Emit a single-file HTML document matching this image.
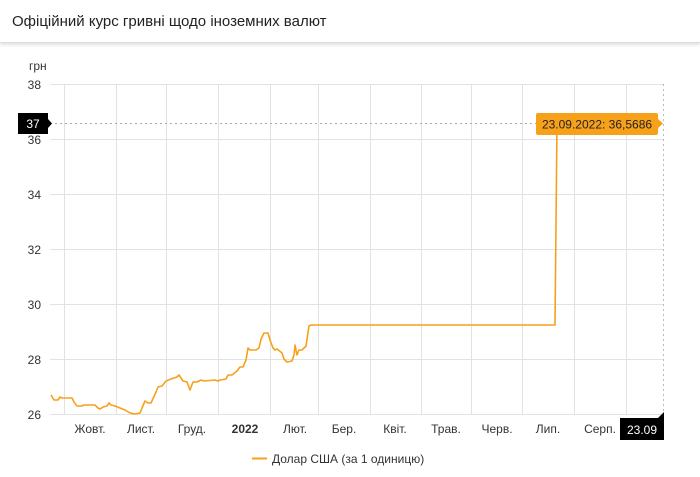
<!DOCTYPE html>
<html><head><meta charset="utf-8"><style>
body{margin:0;width:700px;height:477px;background:#fff;overflow:hidden;font-family:"Liberation Sans",sans-serif;}
.hdr{position:absolute;left:0;top:0;width:700px;height:42px;border-bottom:1px solid #ddd;box-shadow:0 2px 3px rgba(0,0,0,0.12);}
.hdr span{position:absolute;left:12px;top:13px;font-size:15px;color:#222;}
</style></head><body>
<div class="hdr"><span>Офіційний курс гривні щодо іноземних валют</span></div>
<svg width="700" height="477" style="position:absolute;left:0;top:0" font-family="Liberation Sans, sans-serif">
<g stroke="#e2e2e2" stroke-width="1">
<line x1="50" y1="84.5" x2="664" y2="84.5"/><line x1="50" y1="139.5" x2="664" y2="139.5"/>
<line x1="50" y1="194.5" x2="664" y2="194.5"/><line x1="50" y1="249.5" x2="664" y2="249.5"/>
<line x1="50" y1="304.5" x2="664" y2="304.5"/><line x1="50" y1="359.5" x2="664" y2="359.5"/>
<line x1="50" y1="414.5" x2="664" y2="414.5"/>
<line x1="64.5" y1="84" x2="64.5" y2="414"/><line x1="116.5" y1="84" x2="116.5" y2="414"/>
<line x1="166.5" y1="84" x2="166.5" y2="414"/><line x1="218.5" y1="84" x2="218.5" y2="414"/>
<line x1="270.5" y1="84" x2="270.5" y2="414"/><line x1="318.5" y1="84" x2="318.5" y2="414"/>
<line x1="370.5" y1="84" x2="370.5" y2="414"/><line x1="421.5" y1="84" x2="421.5" y2="414"/>
<line x1="471.5" y1="84" x2="471.5" y2="414"/><line x1="522.5" y1="84" x2="522.5" y2="414"/>
<line x1="574.5" y1="84" x2="574.5" y2="414"/><line x1="626.5" y1="84" x2="626.5" y2="414"/>
</g>
<line x1="663.5" y1="84" x2="663.5" y2="414" stroke="#bbb" stroke-dasharray="2,3"/>
<line x1="50" y1="123.5" x2="536" y2="123.5" stroke="#aaa" stroke-dasharray="2,3"/>
<g font-size="12" fill="#333" text-anchor="end">
<text x="29" y="70" text-anchor="start">грн</text>
<text x="41" y="89">38</text><text x="41" y="144">36</text><text x="41" y="199">34</text>
<text x="41" y="254">32</text><text x="41" y="309">30</text><text x="41" y="364">28</text><text x="41" y="419">26</text>
</g>
<g font-size="12" fill="#333" text-anchor="middle">
<text x="90" y="433">Жовт.</text><text x="141" y="433">Лист.</text><text x="192" y="433">Груд.</text>
<text x="245" y="433" font-weight="bold">2022</text><text x="295" y="433">Лют.</text><text x="344" y="433">Бер.</text>
<text x="395" y="433">Квіт.</text><text x="446" y="433">Трав.</text><text x="497" y="433">Черв.</text>
<text x="548" y="433">Лип.</text><text x="600" y="433">Серп.</text>
</g>
<polyline fill="none" stroke="#f7a11a" stroke-width="1.6" stroke-linejoin="round" points="51,395 54,400 58,400 60,397 62,398 66,398 72,398 74,402 77,406 82,406 84,405 95,405 98,408 100,409 103,407 107,406 109,403 111,405 115,406 120,408 125,410 130,413 135,414 140,413 142,408 145,401 148,403 151,403 156,392 158,387 162,386 166,381 171,379 177,377 179,375 183,381 187,382 190,390 193,382 197,382 201,380 204,381 215,380 218,381 220,380 226,379 228,375 232,375 237,371 240,367 243,367 246,360 248,348 250,350 256,350 259,348 261,339 264,333 268,333 270,340 273,348 275,350 277,349 282,353 284,359 287,362 292,361 294,355 295,345 297,355 299,350 302,350 306,346 309,326 311,325 555,325 557,123"/>
<rect x="18" y="113" width="30" height="21" fill="#000"/>
<polygon points="48,119 52,123.5 48,128" fill="#000"/>
<text x="33" y="128" font-size="12" fill="#fff" text-anchor="middle">37</text>
<rect x="536" y="113" width="122" height="22" rx="2" fill="#f7a11a"/>
<polygon points="658,119 663,123.5 658,128" fill="#f7a11a"/>
<text x="597" y="128.5" font-size="12" fill="#222" text-anchor="middle">23.09.2022: 36,5686</text>
<rect x="620" y="418" width="44" height="22" fill="#000"/>
<polygon points="658,418 664,412 664,418" fill="#000"/>
<text x="642" y="434" font-size="12" fill="#fff" text-anchor="middle">23.09</text>
<line x1="252" y1="458.5" x2="267" y2="458.5" stroke="#f7a11a" stroke-width="2"/>
<text x="272" y="463" font-size="12" fill="#333">Долар США (за 1 одиницю)</text>
</svg>
</body></html>
